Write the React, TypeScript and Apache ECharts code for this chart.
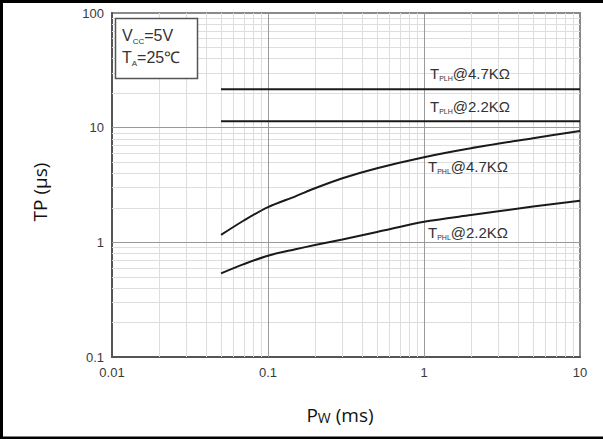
import React, { useEffect, useRef } from "react";
import * as echarts from "echarts";

// ---- data ----
const pwCurve = [0.05, 0.07, 0.1, 0.15, 0.2, 0.3, 0.5, 1, 2, 5, 10];
const tphl4k7 = [1.16, 1.55, 2.03, 2.52, 2.96, 3.62, 4.43, 5.53, 6.62, 8.09, 9.37];
const tphl2k2 = [0.536, 0.645, 0.765, 0.87, 0.947, 1.06, 1.23, 1.51, 1.73, 2.05, 2.3];
const pwFlat = [0.05, 10];
const tplh4k7 = [21.6, 21.6];
const tplh2k2 = [11.4, 11.4];

const xDecades = [0.01, 0.1, 1, 10];
const yDecades = [0.1, 1, 10, 100];
const minorMult = [2, 3, 4, 5, 6, 7, 8, 9];

const fmt = (v: number) => String(Number(v.toPrecision(3)));
const SANS = "Liberation Sans, Arial, sans-serif";

export default function App() {
  const ref = useRef<HTMLDivElement>(null);
  useEffect(() => {
    document.body.style.margin = "0";
    const chart = echarts.init(ref.current!, null, { renderer: "svg" });

    const minorX: number[] = [];
    xDecades.slice(0, -1).forEach((d) => minorMult.forEach((m) => minorX.push(Number((d * m).toPrecision(3)))));
    const minorY: number[] = [];
    yDecades.slice(0, -1).forEach((d) => minorMult.forEach((m) => minorY.push(Number((d * m).toPrecision(3)))));
    const majorX = xDecades.slice(1, -1);
    const majorY = yDecades.slice(1, -1);

    const gridSeries = (xs: number[], ys: number[], color: string, name: string) => ({
      type: "line",
      name,
      data: [[0.05, 1]],
      showSymbol: false,
      lineStyle: { opacity: 0 },
      silent: true,
      z: 1,
      markLine: {
        silent: true,
        symbol: ["none", "none"],
        label: { show: false },
        emphasis: { disabled: true },
        lineStyle: { type: "solid", color, width: 1 },
        data: [...xs.map((v) => ({ xAxis: v })), ...ys.map((v) => ({ yAxis: v }))],
      },
    });

    const curve = (xs: number[], ys: number[], smooth: number | boolean) => ({
      type: "line",
      data: xs.map((x, i) => [x, ys[i]]),
      showSymbol: false,
      smooth,
      lineStyle: { color: "#1a1a1a", width: 2 },
      silent: true,
      z: 5,
    });

    const subLabel = (x: number, y: number, sub: string, rest: string) => ({
      type: "text",
      x,
      y,
      style: {
        text: `{m|T}{s|${sub}}{m|${rest}}`,
        fill: "#333",
        rich: {
          m: { fontSize: 15, fontFamily: SANS, fill: "#333", lineHeight: 18 },
          s: { fontSize: 7, fontFamily: SANS, fill: "#333", verticalAlign: "bottom", lineHeight: 8 },
        },
      },
      z: 10,
    });

    chart.setOption({
      animation: false,
      backgroundColor: "#fff",
      grid: { left: 112, right: 23, top: 13, bottom: 82, show: true, borderColor: "#8a8a8a", borderWidth: 2 },
      xAxis: {
        type: "log",
        logBase: 10,
        min: 0.01,
        max: 10,
        axisLine: { show: true, lineStyle: { color: "#555", width: 2 } },
        axisTick: { show: false },
        splitLine: { show: false },
        axisLabel: { formatter: fmt, color: "#3a3a3a", fontSize: 13, fontFamily: SANS, margin: 9 },
      },
      yAxis: {
        type: "log",
        logBase: 10,
        min: 0.1,
        max: 100,
        axisLine: { show: true, lineStyle: { color: "#555", width: 2 } },
        axisTick: { show: false },
        splitLine: { show: false },
        axisLabel: { formatter: fmt, color: "#3a3a3a", fontSize: 13, fontFamily: SANS, margin: 8 },
      },
      series: [
        gridSeries(minorX, minorY, "#dedede", "minor"),
        gridSeries(majorX, majorY, "#9a9a9a", "major"),
        curve(pwFlat, tplh4k7, false),
        curve(pwFlat, tplh2k2, false),
        curve(pwCurve, tphl4k7, 0.3),
        curve(pwCurve, tphl2k2, 0.3),
      ],
      graphic: [
        { type: "rect", shape: { x: 0, y: 0, width: 603, height: 3 }, style: { fill: "#000" }, z: 20 },
        { type: "rect", shape: { x: 0, y: 0, width: 3, height: 439 }, style: { fill: "#000" }, z: 20 },
        { type: "rect", shape: { x: 0, y: 436.5, width: 603, height: 2.5 }, style: { fill: "#000" }, z: 20 },
        {
          type: "rect",
          shape: { x: 115.5, y: 18.5, width: 82, height: 60 },
          style: { fill: "#fff", stroke: "#555", lineWidth: 1.5 },
          z: 10,
        },
        {
          type: "text",
          x: 122,
          y: 26,
          style: {
            text: "{m|V}{s|CC}{m|=5V}",
            rich: {
              m: { fontSize: 16, fontFamily: SANS, fill: "#333", lineHeight: 19 },
              s: { fontSize: 8, fontFamily: SANS, fill: "#333", verticalAlign: "bottom", lineHeight: 8 },
            },
          },
          z: 11,
        },
        {
          type: "text",
          x: 122,
          y: 48,
          style: {
            text: "{m|T}{s|A}{m|=25℃}",
            rich: {
              m: { fontSize: 16, fontFamily: SANS, fill: "#333", lineHeight: 19 },
              s: { fontSize: 8, fontFamily: SANS, fill: "#333", verticalAlign: "bottom", lineHeight: 8 },
            },
          },
          z: 11,
        },
        subLabel(430, 64, "PLH", "@4.7KΩ"),
        subLabel(430, 97, "PLH", "@2.2KΩ"),
        subLabel(428, 157, "PHL", "@4.7KΩ"),
        subLabel(428, 223, "PHL", "@2.2KΩ"),
        {
          type: "text",
          x: 40,
          y: 192,
          rotation: Math.PI / 2,
          style: {
            text: "TP (μs)",
            fontSize: 19,
            fontFamily: "Open Sans",
            fill: "#111",
            align: "center",
            verticalAlign: "middle",
          },
          z: 11,
        },
        {
          type: "text",
          x: 340,
          y: 412,
          style: {
            text: "{p|P}{w|W}{p| (ms)}",
            align: "center",
            verticalAlign: "middle",
            rich: {
              p: { fontSize: 19, fontFamily: "Open Sans", fill: "#111", lineHeight: 24, verticalAlign: "bottom" },
              w: { fontSize: 14, fontFamily: "Open Sans", fill: "#111", lineHeight: 20, verticalAlign: "bottom" },
            },
          },
          z: 11,
        },
      ],
    });
    return () => chart.dispose();
  }, []);
  return <div ref={ref} style={{ position: "absolute", left: 0, top: 0, width: 603, height: 439 }} />;
}
